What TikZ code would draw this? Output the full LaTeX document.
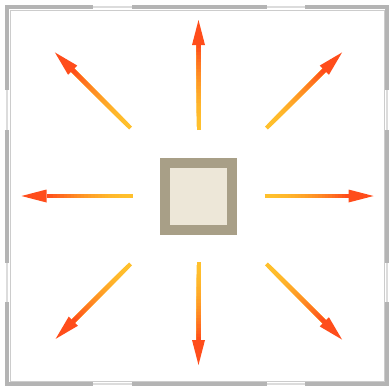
\documentclass[tikz,border=0pt]{standalone}
\usetikzlibrary{calc}
\definecolor{heatlow}{HTML}{FFC02C}
\definecolor{heathigh}{HTML}{FF4D1B}
\definecolor{wallgray}{HTML}{B4B4B4}
\definecolor{panegray}{HTML}{DCDCDC}
\definecolor{heaterrim}{HTML}{A89F87}
\definecolor{heaterfill}{HTML}{EDE7D8}
\tikzset{
  wall/.style={wallgray,line width=4pt},
  pane/.style={panegray,line width=2pt},
  heater/.style={draw=heaterrim,fill=heaterfill,line width=10pt,minimum size=67pt,inner sep=0pt},
}

\begin{document}
\begin{tikzpicture}[x=1pt,y=-1pt]
    \useasboundingbox (0,0) rectangle (390,386);
    % walls and windows
    \draw[wall](7, 7) rectangle (387, 384);
    \foreach \a/\b in {93/132,267/305}{
        \fill[white](\a, 3) rectangle (\b, 9.5);
        \fill[white](\a, 381.5) rectangle (\b, 388);
        \draw[pane](\a, 7) -- (\b, 7);
        \draw[pane](\a, 384) -- (\b, 384);
    }
    \foreach \a/\b in {90/130,263/302}{
        \fill[white](3, \a) rectangle (9.5, \b);
        \fill[white](384.5, \a) rectangle (390, \b);
        \draw[pane](7, \a) -- (7, \b);
        \draw[pane](387, \a) -- (387, \b);
    }
    \draw[panegray!60!wallgray,line width=1pt](10.5, 10) rectangle (384.5, 381.5);
    % heater
    \node[heater] (heater) at (198.5, 196) {};
    % heat rays
    \foreach \ang/\ra/\rb in {0/66/175,90/66/169,180/66/177,270/66/176,45/96/203,135/96/202,225/96/203,315/96/203}{
        \coordinate (s) at ($(heater.center)+(\ang:\ra)$);
        \coordinate (t) at ($(heater.center)+(\ang:\rb)$);
        \coordinate (h) at ($(heater.center)+(\ang:\rb-25)$);
        \foreach \i in {0,...,24}{
            \pgfmathsetmacro\ta{\i/25}
            \pgfmathsetmacro\p{100*(\i/24)^1.8}
            \draw[heathigh!\p!heatlow,line width=4pt]($(s)!\ta!(h)$) -- (h);
        }
        \fill[heathigh](t) -- ($(h)!6.5pt!90:(t)$) -- ($(h)!6.5pt!-90:(t)$) -- cycle;
    }
\end{tikzpicture}
\end{document}
